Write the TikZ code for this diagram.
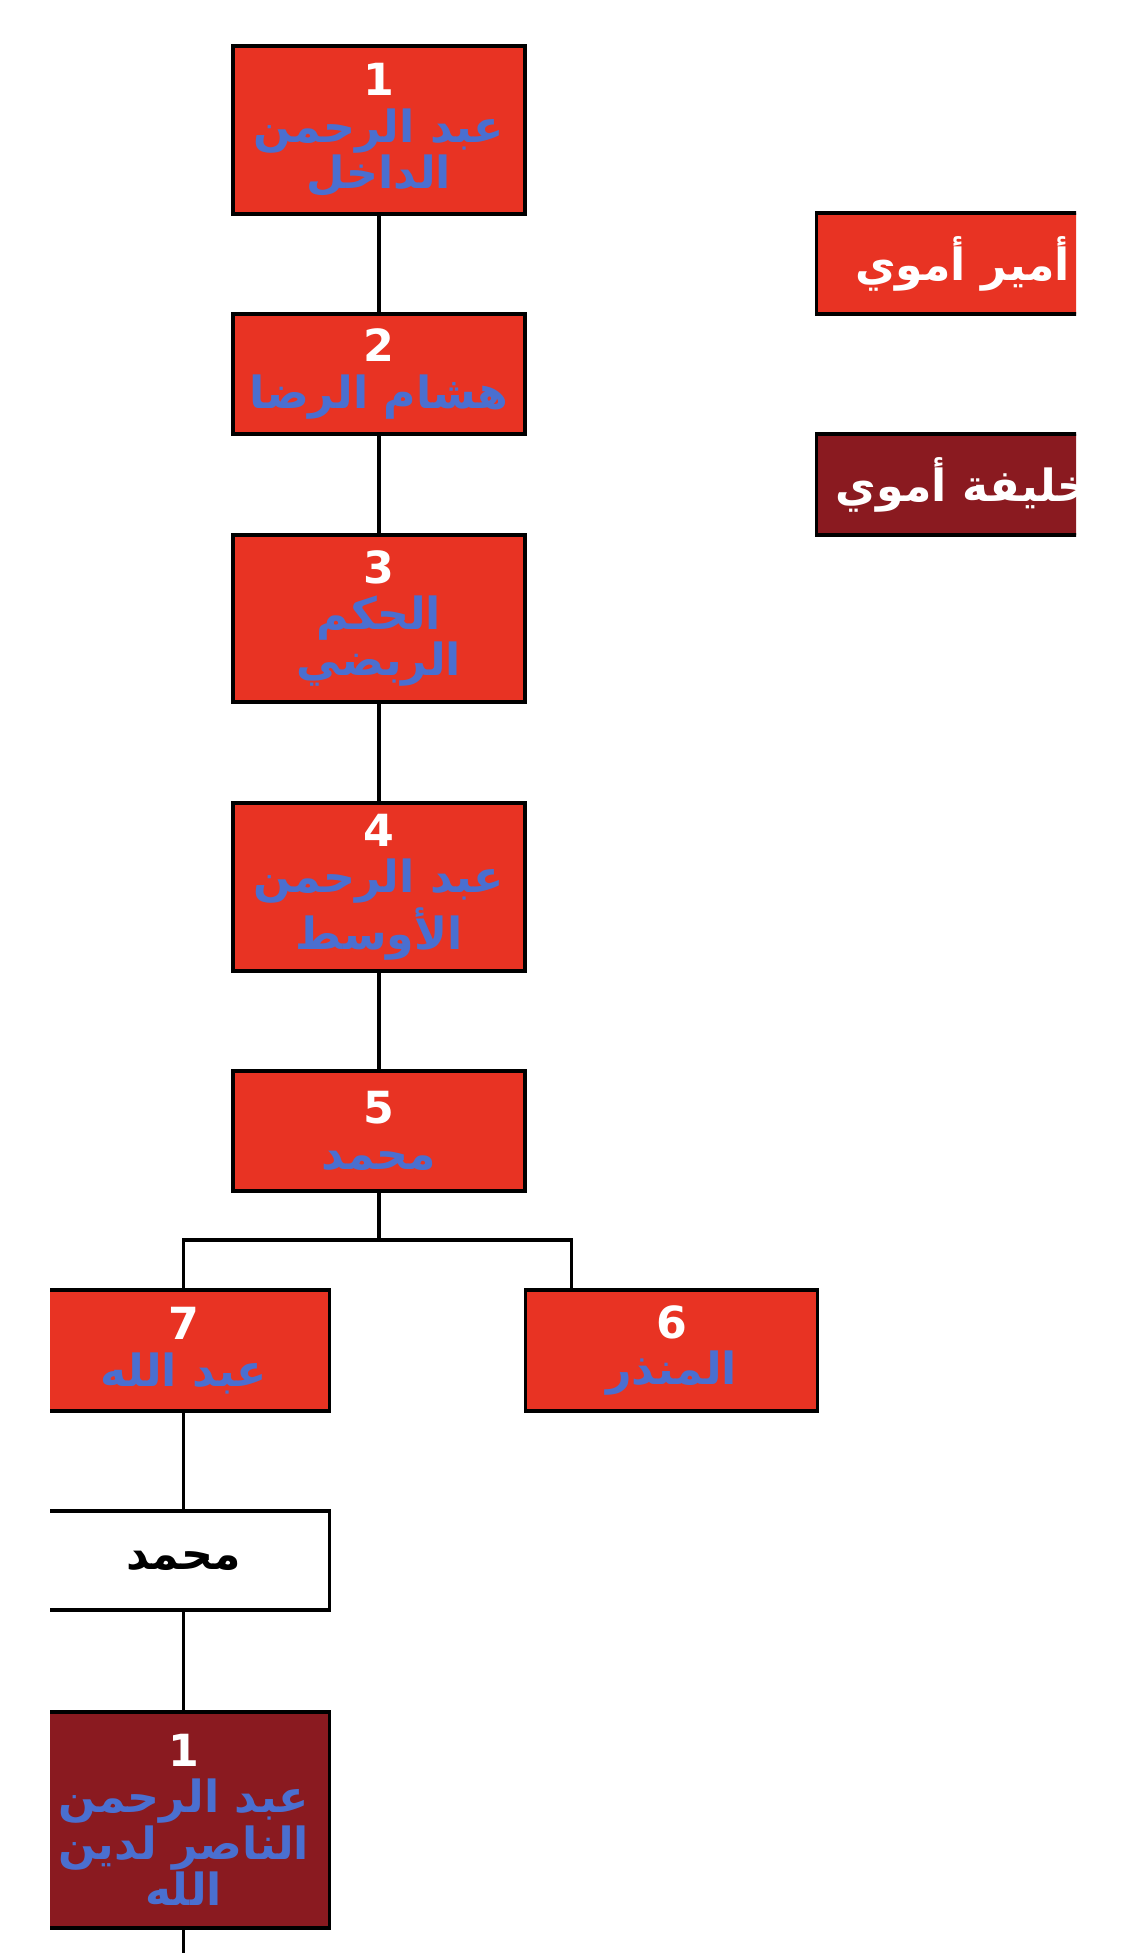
\documentclass[tikz,border=0pt]{standalone}
\usepackage{fontspec}
\usepackage{xcolor}
\TeXXeTstate=1
\newfontfamily\arabicfont[Script=Arabic]{DejaVu Sans}
\definecolor{emirred}{HTML}{E83323}
\definecolor{caliphred}{HTML}{8A1A20}
\definecolor{nameblue}{HTML}{4A6FD0}
\newcommand{\arname}[1]{\beginR #1\endR}
\tikzset{
  ruler/.style={draw=black, line width=1.1pt, minimum width=2.92cm, align=center, inner sep=0pt,
    font=\arabicfont\bfseries\fontsize{12.6}{13.2}\selectfont, text=nameblue},
  emir/.style={ruler, fill=emirred},
  caliph/.style={ruler, fill=caliphred},
  link/.style={line width=1pt}
}

\begin{document}
\begin{tikzpicture}
      \useasboundingbox (0,0) rectangle (11.25,-19.53);
      \begin{scope}
      \clip (0.50,0) rectangle (10.76,-19.53);
      \node[emir, minimum height=1.68cm] (e1) at (3.79,-1.30) {\textcolor{white}{1}\\\arname{عبد الرحمن}\\\arname{الداخل}};
      \node[emir, minimum height=1.20cm] (e2) at (3.79,-3.74) {\textcolor{white}{2}\\\arname{هشام الرضا}};
      \node[emir, minimum height=1.67cm] (e3) at (3.79,-6.185) {\textcolor{white}{3}\\\arname{الحكم}\\\arname{الربضي}};
      \node[emir, minimum height=1.68cm] (e4) at (3.79,-8.87) {\textcolor{white}{4}\\\arname{عبد الرحمن}\\\arname{الأوسط}};
      \node[emir, minimum height=1.20cm] (e5) at (3.79,-11.31) {\textcolor{white}{5}\\\arname{محمد}};
      \node[emir, minimum height=1.21cm] (e7) at (1.835,-13.505) {\textcolor{white}{7}\\\arname{عبد الله}};
      \node[emir, minimum height=1.21cm] (e6) at (6.715,-13.505) {\textcolor{white}{6}\\\arname{المنذر}};
      \node[ruler, fill=white, text=black, minimum height=0.99cm] (m) at (1.835,-15.605) {\arname{محمد}};
      \node[caliph, minimum height=2.16cm] (c1) at (1.835,-18.20) {\textcolor{white}{1}\\\arname{عبد الرحمن}\\\arname{الناصر لدين}\\\arname{الله}};

      \node[emir, text=white, minimum height=1.01cm] (l1) at (9.625,-2.635) {\arname{أمير أموي}};
      \node[caliph, text=white, minimum height=1.01cm] (l2) at (9.625,-4.845) {\arname{خليفة أموي}};

      \coordinate (fork) at (3.79,-12.40);
      \coordinate (leg6) at ([xshift=0.48cm]e6.north west);
      \coordinate (below) at (1.835,-19.53);
      \draw[link] (e1) -- (e2);
      \draw[link] (e2) -- (e3);
      \draw[link] (e3) -- (e4);
      \draw[link] (e4) -- (e5);
      \draw[link] (e5) -- (fork) -| (e7);
      \draw[link] (fork) -| (leg6);
      \draw[link] (e7) -- (m);
      \draw[link] (m) -- (c1);
      \draw[link] (c1) -- (below);
      \end{scope}
\end{tikzpicture}
\end{document}
